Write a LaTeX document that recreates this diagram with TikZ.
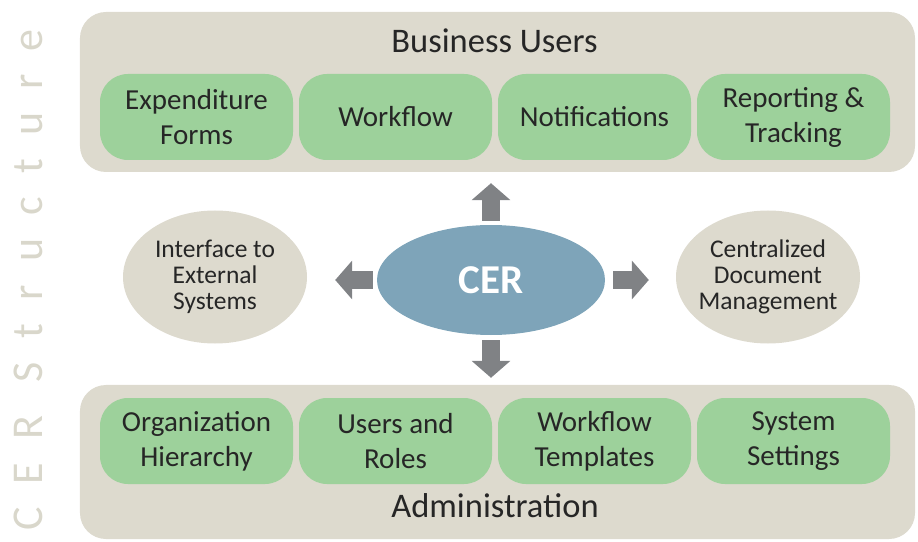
\documentclass[tikz,border=0pt]{standalone}
\usepackage{fontspec}
\setmainfont{Carlito}
\usetikzlibrary{arrows.meta,shapes.geometric}
\definecolor{panelgray}{RGB}{221,218,206}
\definecolor{featgreen}{RGB}{157,209,155}
\definecolor{cerblue}{RGB}{126,164,185}
\definecolor{arrowgray}{RGB}{128,130,133}
\definecolor{textdark}{RGB}{38,38,38}
\definecolor{markgray}{RGB}{217,215,203}
\begin{document}
\begin{tikzpicture}[x=1bp,y=-1bp,
    panel/.style={fill=panelgray, rounded corners=26bp, minimum width=835bp, inner sep=0pt},
    feat/.style={fill=featgreen, rounded corners=28bp, minimum width=193bp, minimum height=86bp, inner sep=0pt, align=center, text=textdark, font=\fontsize{29bp}{35bp}\selectfont},
    title/.style={text=textdark, font=\fontsize{34.5bp}{40bp}\selectfont, anchor=base},
    side/.style={ellipse, fill=panelgray, minimum width=184bp, minimum height=133bp, inner xsep=-12bp, inner ysep=0pt, align=center, text=textdark, font=\fontsize{25.5bp}{26bp}\selectfont},
    blockarrow/.style={arrowgray, line width=18bp, -{Triangle[length=17bp,width=38bp]}}]
    \useasboundingbox (0,0) rectangle (918,542);
    % background panels
    \node[panel, minimum height=160bp] (users) at (497.5,92) {};
    \node[panel, minimum height=154bp] (admin) at (497.5,462) {};
    \node[title] (userstitle) at (494.5,53) {Business Users};
    \node[title] (admintitle) at (495,517) {Administration};
    % business user features
    \node[feat] (forms) at (196.5,117) {Expenditure\\Forms};
    \node[feat] (flow) at (395.5,117) {Workflow};
    \node[feat] (notes) at (594.5,117) {Notifications};
    \node[feat] (report) at (793.5,117) {Reporting \&\\Tracking};
    % administration features
    \node[feat] (org) at (196.5,441) {Organization\\Hierarchy};
    \node[feat] (roles) at (395.5,441) {Users and\\Roles};
    \node[feat] (templ) at (594.5,441) {Workflow\\Templates};
    \node[feat] (settings) at (793.5,441) {System\\Settings};
    % centre and side ellipses
    \node[ellipse, fill=cerblue, minimum width=228bp, minimum height=110bp, inner sep=0pt, text=white, font=\fontsize{41bp}{46bp}\selectfont\bfseries] (cer) at (491,280) {CER};
    \node[side] (ext) at (215,277) {Interface to\\External\\Systems};
    \node[side] (docs) at (768,277) {Centralized\\Document\\Management};
    % arrows
    \draw[blockarrow, shorten <=4bp, shorten >=11bp] (cer.north) -- (cer.north |- users.south);
    \draw[blockarrow, shorten <=5bp, shorten >=7bp] (cer.south) -- (cer.south |- admin.north);
    \draw[blockarrow, shorten <=4bp, shorten >=28bp] (cer.west) -- (cer.west -| ext.east);
    \draw[blockarrow, shorten <=8bp, shorten >=27bp] (cer.east) -- (cer.east -| docs.west);
    % side title
    \node[rotate=90, anchor=base, text=markgray, font=\fontsize{44bp}{50bp}\selectfont\addfontfeature{LetterSpace=53}] (mark) at (42,280) {CER Structure};
\end{tikzpicture}
\end{document}
